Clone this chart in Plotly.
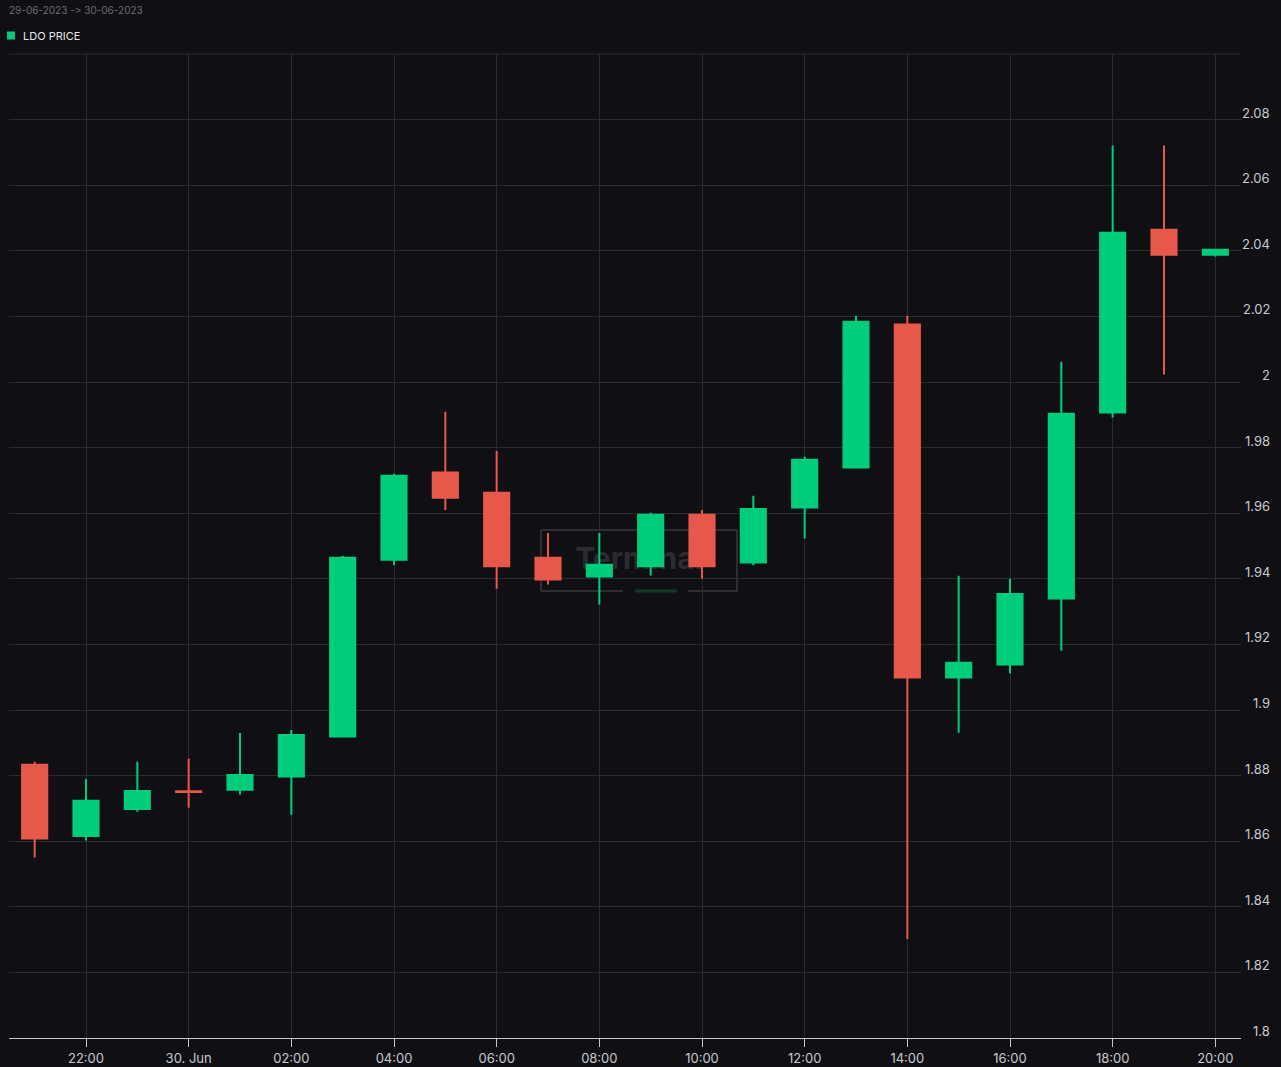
import plotly.graph_objects as go
import pandas as pd

# ---- data ----
times = pd.date_range("2023-06-29 21:00", "2023-06-30 20:00", freq="h")
opens = [1.8833, 1.8616, 1.8698, 1.8752, 1.8757, 1.8797, 1.8919, 1.9458, 1.9724, 1.9662,
         1.9464, 1.9407, 1.9438, 1.9595, 1.9450, 1.9617, 1.9739, 2.0175, 1.9099, 1.9139,
         1.9340, 1.9907, 2.0464, 2.0388]
highs = [1.8842, 1.8790, 1.8842, 1.8851, 1.8930, 1.8939, 1.9470, 1.9720, 1.9909, 1.9790,
         1.9540, 1.9540, 1.9601, 1.9610, 1.9653, 1.9772, 2.0202, 2.0202, 1.9409, 1.9400,
         2.0062, 2.0721, 2.0721, 2.0403]
lows = [1.8550, 1.8602, 1.8690, 1.8702, 1.8742, 1.8681, 1.8919, 1.9441, 1.9610, 1.9370,
        1.9383, 1.9322, 1.9410, 1.9401, 1.9441, 1.9523, 1.9739, 1.8302, 1.8931, 1.9111,
        1.9181, 1.9892, 2.0023, 2.0382]
closes = [1.8608, 1.8723, 1.8753, 1.8750, 1.8802, 1.8924, 1.9464, 1.9714, 1.9647, 1.9438,
          1.9398, 1.9443, 1.9595, 1.9438, 1.9613, 1.9763, 2.0184, 1.9099, 1.9144, 1.9354,
          1.9903, 2.0455, 2.0388, 2.0403]

x_tickvals = pd.date_range("2023-06-29 22:00", "2023-06-30 20:00", freq="2h")
x_ticktext = ["22:00", "30. Jun", "02:00", "04:00", "06:00", "08:00", "10:00",
              "12:00", "14:00", "16:00", "18:00", "20:00"]
y_tickvals = [1.8, 1.82, 1.84, 1.86, 1.88, 1.9, 1.92, 1.94, 1.96, 1.98,
              2.0, 2.02, 2.04, 2.06, 2.08]
y_ticktext = ["1.8", "1.82", "1.84", "1.86", "1.88", "1.9", "1.92", "1.94", "1.96", "1.98",
              "2", "2.02", "2.04", "2.06", "2.08"]

BG = "#101014"
GRID = "#2a2a2f"
GREEN = "#00CD7C"
RED = "#E8584A"
FONT = "Inter"

fig = go.Figure()
fig.add_trace(go.Candlestick(
    x=times, open=opens, high=highs, low=lows, close=closes,
    increasing=dict(line=dict(color=GREEN, width=2), fillcolor=GREEN),
    decreasing=dict(line=dict(color=RED, width=2), fillcolor=RED),
    name="LDO PRICE", showlegend=False,
))

W, H = 1281, 1067
ML, MR, MT, MB = 9, 40, 54, 29
pw, ph = W - ML - MR, H - MT - MB
def px(xp): return (xp - ML) / pw
def py(yp): return (H - MB - yp) / ph

shapes = []
# top grid line (2.10)
shapes.append(dict(type="line", xref="paper", yref="paper", x0=0, x1=1, y0=1, y1=1,
                   line=dict(color=GRID, width=1), layer="below"))
# watermark box
wm = dict(xref="paper", yref="paper", layer="below")
WMC = "rgba(70,70,74,0.55)"
x0, x1, yt, yb = px(541), px(737), py(530), py(591)
shapes.append(dict(type="line", x0=x0, x1=x1, y0=yt, y1=yt, line=dict(color=WMC, width=2), **wm))
shapes.append(dict(type="line", x0=x0, x1=x0, y0=yb, y1=yt, line=dict(color=WMC, width=2), **wm))
shapes.append(dict(type="line", x0=x1, x1=x1, y0=yb, y1=yt, line=dict(color=WMC, width=2), **wm))
shapes.append(dict(type="line", x0=x0, x1=px(623), y0=yb, y1=yb, line=dict(color=WMC, width=2), **wm))
shapes.append(dict(type="line", x0=px(688), x1=x1, y0=yb, y1=yb, line=dict(color=WMC, width=2), **wm))
shapes.append(dict(type="line", x0=px(635), x1=px(677), y0=yb, y1=yb,
                   line=dict(color="#133826", width=3), **wm))
shapes.append(dict(type="rect", x0=x0, x1=x1, y0=py(590), y1=py(524), line=dict(width=0),
                   label=dict(text="<b>Terminal</b>", font=dict(family=FONT, size=30, color="#2c2c30"),
                              textposition="middle center"), **wm))
# legend marker
shapes.append(dict(type="rect", xref="paper", yref="paper", x0=px(7), x1=px(15),
                   y0=py(39.5), y1=py(31.5), fillcolor=GREEN, line=dict(width=0)))

annotations = []
for v, t in zip(y_tickvals, y_ticktext):
    annotations.append(dict(x=1, xref="paper", y=v, yref="y", text=t, showarrow=False,
                            xanchor="right", yanchor="middle", xshift=31, yshift=7,
                            font=dict(family=FONT, size=13, color="#c9c9cf")))
annotations.append(dict(x=px(7), y=py(10), xref="paper", yref="paper",
                        text="29-06-2023 -\u200c> 30-06-2023", xanchor="left", yanchor="middle",
                        showarrow=False, font=dict(family=FONT, size=10, color="#6b6b75")))
annotations.append(dict(x=px(21), y=py(35.5), xref="paper", yref="paper", text="LDO PRICE",
                        xanchor="left", yanchor="middle",
                        showarrow=False, font=dict(family=FONT, size=11, color="#e6e6ea")))

fig.update_layout(
    width=W, height=H,
    margin=dict(l=ML, r=MR, t=MT, b=MB, autoexpand=False),
    paper_bgcolor=BG, plot_bgcolor=BG,
    font=dict(family=FONT, color="#c9c9cf", size=13),
    showlegend=False,
    shapes=shapes, annotations=annotations,
    xaxis=dict(
        range=[pd.Timestamp("2023-06-29 20:30"), pd.Timestamp("2023-06-30 20:30")],
        tickvals=x_tickvals, ticktext=x_ticktext,
        showgrid=True, gridcolor=GRID, gridwidth=1,
        showline=True, linecolor="#c8c8d0", linewidth=1,
        ticks="outside", ticklen=8, tickcolor="#c8c8d0", tickwidth=1,
        tickfont=dict(family=FONT, size=13, color="#c9c9cf"),
        rangeslider=dict(visible=False), zeroline=False, fixedrange=True,
        automargin=False,
    ),
    yaxis=dict(
        range=[1.8, 2.1], tickvals=y_tickvals + [2.1], showticklabels=False,
        showgrid=True, gridcolor=GRID, gridwidth=1, zeroline=False,
        side="right", ticks="", showline=False, fixedrange=True, automargin=False,
    ),
)

fig.write_html("out.html")
